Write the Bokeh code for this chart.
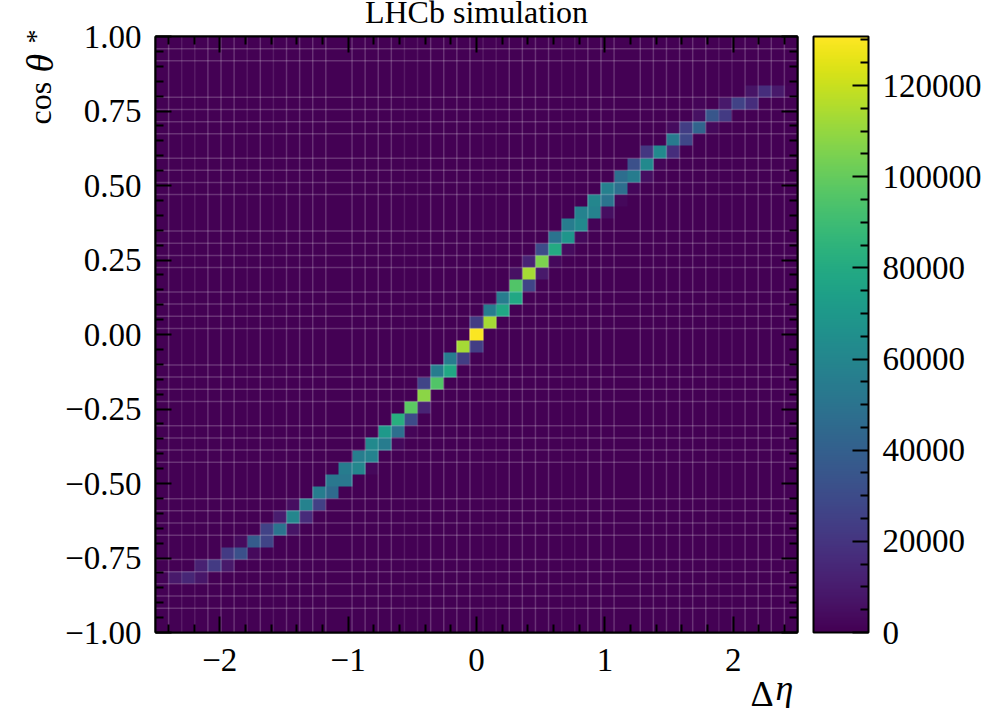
import numpy as np
from bokeh.embed import file_html
from bokeh.resources import INLINE
from bokeh.plotting import figure
from bokeh.models import (LinearColorMapper, ColorBar, FixedTicker, LinearAxis, Label,
                          Range1d, NumeralTickFormatter)
from bokeh.palettes import Viridis256

# bin edges of the 2D histogram
N_EDGES = 50
eta_edges = np.linspace(-2.5, 2.5, N_EDGES)
cos_edges = np.linspace(-1.0, 1.0, N_EDGES)

# non-empty cells: column (from the left), row (from the top), counts
col_idx = [0, 1, 2, 3, 3, 4, 5, 5, 6, 6, 7, 7, 8, 8, 9, 9, 10, 10, 10, 11, 11, 12, 12, 13, 13, 14, 14,
           15, 15, 16, 16, 16, 17, 17, 18, 18, 18, 19, 19, 19, 20, 20, 20, 21, 21, 22, 22, 23, 23, 24, 24,
           24, 25, 25, 26, 26, 27, 27, 27, 28, 28, 28, 29, 29, 29, 30, 30, 30, 31, 31, 31, 32, 32, 32,
           33, 33, 33, 34, 34, 34, 35, 35, 35, 36, 36, 36, 37, 37, 37, 38, 38, 39, 39, 39, 40, 40,
           41, 41, 41, 42, 42, 43, 43, 44, 45, 45, 46, 47, 48]
row_idx = [44, 44, 44, 44, 43, 43, 43, 42, 42, 41, 42, 41, 41, 40, 40, 39, 40, 39, 38, 39, 38, 38, 37, 37, 36, 36, 35,
           35, 34, 35, 34, 33, 33, 32, 33, 32, 31, 32, 31, 30, 30, 29, 28, 28, 27, 27, 26, 26, 25, 25, 24,
           23, 23, 22, 22, 21, 21, 20, 19, 20, 19, 18, 19, 18, 17, 18, 17, 16, 17, 16, 15, 16, 15, 14,
           15, 14, 13, 14, 13, 12, 13, 12, 11, 12, 11, 10, 11, 10, 9, 10, 9, 9, 8, 7, 8, 7,
           7, 6, 5, 7, 6, 6, 5, 5, 5, 4, 4, 4, 4]
counts = [1500, 9000, 14000, 8000, 12000, 22000, 9000, 22000, 32000, 4000, 3500, 38000, 27000, 26000, 50000, 10000, 7000, 60000, 5000, 16000, 58000, 25000, 55000, 45000, 52000, 52000, 55000,
          60000, 56000, 3000, 58000, 62000, 55000, 70000, 3000, 48000, 82000, 2000, 30000, 98000, 13000, 108000, 27000, 95000, 55000, 78000, 55000, 24000, 113000, 24000, 130000,
          24000, 113000, 55000, 78000, 55000, 78000, 95000, 6000, 27000, 113000, 13000, 9000, 105000, 30000, 3000, 80000, 50000, 4000, 68000, 55000, 3000, 62000, 58000,
          1500, 58000, 60000, 5000, 50000, 57000, 3000, 48000, 47000, 2500, 55000, 32000, 5000, 62000, 21000, 2000, 62000, 17000, 54000, 4000, 28000, 24000,
          42000, 6000, 2000, 3000, 35000, 22000, 9000, 26000, 17000, 7000, 17000, 9000, 1500]

# bin edges where a faint white seam shows across the mesh
strong_eta_edges = [1, 4, 5, 6, 8, 10, 11, 12, 13, 15, 16, 17, 18, 21, 22, 23, 24, 27, 28, 29, 30,
                    33, 34, 35, 37, 38, 39, 40, 41, 42, 45, 46, 47, 48]
faint_eta_edges = [2, 3, 7, 9, 19, 20, 25, 26, 31, 32, 43, 44]
cos_seam_edges = [2, 3, 4, 5, 6, 8, 9, 10, 11, 14, 15, 16, 17, 19, 20, 21, 22, 25, 26, 27, 28,
                  30, 31, 32, 33, 36, 37, 38, 39, 41, 42, 43, 44, 47, 48]

# tick labels
x_ticks = [-2, -1, 0, 1, 2]
x_labels = ["\u22122", "\u22121", "0", "1", "2"]
x_minor = [-2.4, -2.2, -1.8, -1.6, -1.4, -1.2, -0.8, -0.6, -0.4, -0.2, 0.2, 0.4, 0.6, 0.8,
           1.2, 1.4, 1.6, 1.8, 2.2, 2.4]
y_ticks = [-1.0, -0.75, -0.5, -0.25, 0.0, 0.25, 0.5, 0.75, 1.0]
y_labels = ["\u22121.00", "\u22120.75", "\u22120.50", "\u22120.25", "0.00", "0.25", "0.50", "0.75", "1.00"]
y_minor = [round(-1 + 0.05 * k, 2) for k in range(41) if k % 5 != 0]
cb_ticks = [0, 20000, 40000, 60000, 80000, 100000, 120000]
cb_minor = [k * 5000 for k in range(27) if k % 4 != 0]
COUNT_MAX = 130750

H = np.zeros((N_EDGES - 1, N_EDGES - 1))
for c, r, v in zip(col_idx, row_idx, counts):
    H[N_EDGES - 2 - r, c] = v

mapper = LinearColorMapper(palette=Viridis256, low=0, high=COUNT_MAX)

p = figure(width=977, height=697, output_backend="svg", toolbar_location=None,
           x_range=Range1d(-2.5, 2.5), y_range=Range1d(-1, 1),
           frame_width=642, frame_height=596,
           min_border_left=155, min_border_top=36, min_border_bottom=0, min_border_right=0,
           background_fill_color="#440154")
p.image(image=[H], x=-2.5, y=-1, dw=5, dh=2, color_mapper=mapper)

p.segment(x0=eta_edges[strong_eta_edges], x1=eta_edges[strong_eta_edges], y0=-1, y1=1,
          line_color="white", line_alpha=0.2, line_width=1.5)
p.segment(x0=eta_edges[faint_eta_edges], x1=eta_edges[faint_eta_edges], y0=-1, y1=1,
          line_color="white", line_alpha=0.11, line_width=1.5)
p.segment(x0=-2.5, x1=2.5, y0=cos_edges[cos_seam_edges], y1=cos_edges[cos_seam_edges],
          line_color="white", line_alpha=0.2, line_width=1.5)

p.grid.visible = False
p.outline_line_color = "black"
p.outline_line_width = 2

FONT = "Liberation Serif"
FS = "33px"


def style(axis, ticks, minor, labels=None):
    axis.ticker = FixedTicker(ticks=ticks, minor_ticks=minor)
    axis.major_tick_in = 16
    axis.major_tick_out = 0
    axis.minor_tick_in = 8
    axis.minor_tick_out = 0
    axis.major_tick_line_color = "black"
    axis.minor_tick_line_color = "black"
    axis.major_tick_line_width = 2
    axis.minor_tick_line_width = 2
    axis.axis_line_color = "black"
    axis.axis_line_width = 2
    if labels:
        axis.major_label_overrides = dict(zip(ticks, labels))
        axis.major_label_text_font = FONT
        axis.major_label_text_font_size = FS
        axis.major_label_text_color = "black"
        axis.major_label_standoff = 16
    else:
        axis.major_label_overrides = {t: "" for t in ticks}
        axis.major_label_standoff = 0


style(p.xaxis[0], x_ticks, x_minor, x_labels)
style(p.yaxis[0], y_ticks, y_minor, y_labels)
p.yaxis[0].major_label_standoff = 14
top = LinearAxis()
style(top, x_ticks, x_minor)
p.add_layout(top, "above")
right = LinearAxis()
style(right, y_ticks, y_minor)
p.add_layout(right, "right")

cb = ColorBar(color_mapper=mapper, width=55, height=596, location=(16, 0), padding=0, margin=0,
              ticker=FixedTicker(ticks=cb_ticks, minor_ticks=cb_minor),
              formatter=NumeralTickFormatter(format="0"),
              major_tick_in=16, major_tick_out=0, minor_tick_in=8, minor_tick_out=0,
              major_tick_line_color="black", minor_tick_line_color="black",
              major_tick_line_width=2, minor_tick_line_width=2,
              bar_line_color="black", bar_line_width=2,
              major_label_text_font=FONT, major_label_text_font_size=FS,
              major_label_text_color="black", label_standoff=14)
p.add_layout(cb, "right")

# title and axis titles, placed as in the reference (pixels from the panel corner)
for text, x, y, style_, size, angle, align in [
    ("\u0394", 595, 20, "normal", "36px", 0, "left"),
    ("\u03b7", 620, 66, "italic", "36px", 0, "left"),
    ("cos", -116, 672, "normal", "32px", np.pi / 2, "left"),
    ("\u03b8", -116, 743, "italic", "38px", np.pi / 2, "left"),
    ("*", -120, 786, "normal", "28px", np.pi / 2, "left"),
    ("LHCb simulation", 321, 854, "normal", "32px", 0, "center"),
]:
    p.add_layout(Label(x=x, y=y, x_units="screen", y_units="screen", text=text,
                       text_font=FONT, text_font_style=style_, text_font_size=size,
                       text_baseline="alphabetic", text_align=align, text_color="black",
                       angle=angle), "below")

open("out.html", "w").write(file_html(p, INLINE))
